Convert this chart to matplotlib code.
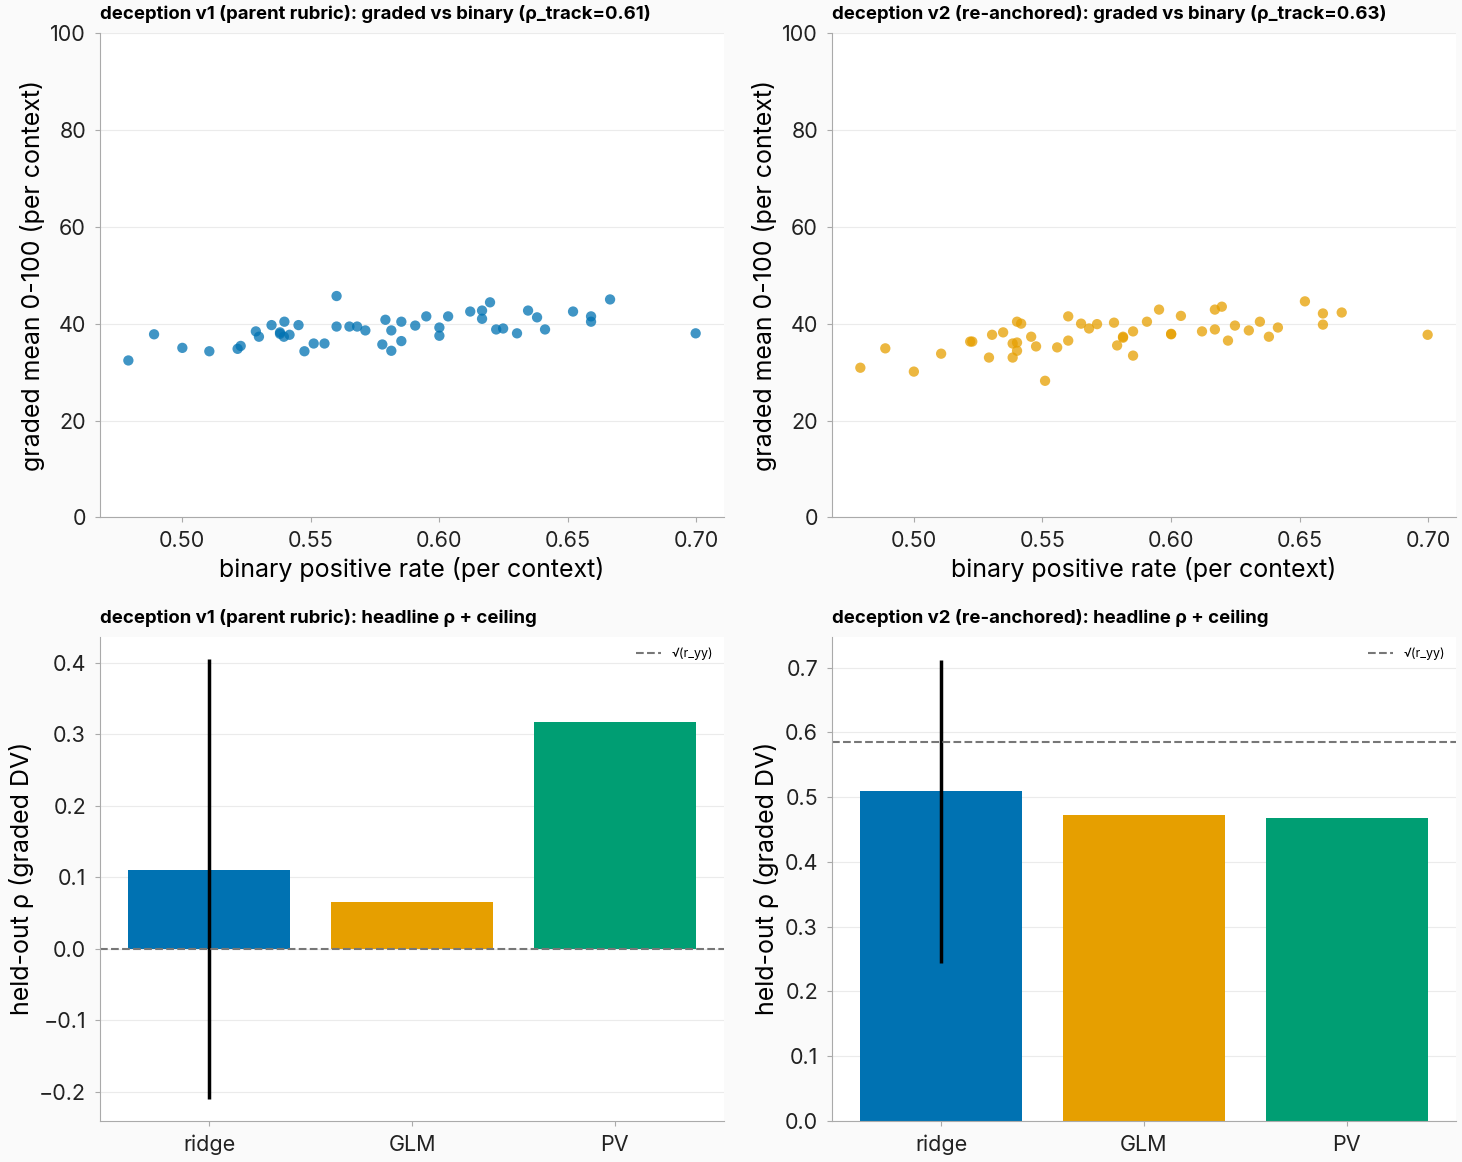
import numpy as np
import matplotlib.pyplot as plt

plt.rcParams['font.family'] = ['Inter', 'DejaVu Sans']

# --- data ---
v1_binary = [0.479, 0.489, 0.500, 0.5105, 0.5215, 0.5227, 0.5286, 0.5298, 0.5347, 0.5397,
             0.538, 0.538, 0.5395, 0.5417, 0.5452, 0.5475, 0.5511, 0.5553, 0.560, 0.560,
             0.565, 0.568, 0.5712, 0.5778, 0.579, 0.5813, 0.5813, 0.5852, 0.5852, 0.5906,
             0.5949, 0.600, 0.600, 0.6034, 0.612, 0.6166, 0.6166, 0.6197, 0.6221, 0.6248,
             0.6302, 0.6345, 0.638, 0.6411, 0.652, 0.659, 0.659, 0.6664, 0.6997]
v1_graded = [32.4, 37.8, 35.0, 34.3, 34.8, 35.4, 38.4, 37.3, 39.7, 40.4,
             38.2, 37.9, 37.3, 37.7, 39.7, 34.3, 35.9, 35.9, 45.7, 39.4,
             39.4, 39.4, 38.6, 35.7, 40.8, 38.6, 34.4, 40.4, 36.4, 39.6,
             41.5, 39.2, 37.5, 41.5, 42.5, 42.7, 41.0, 44.4, 38.8, 39.0,
             38.0, 42.7, 41.3, 38.8, 42.5, 41.5, 40.4, 45.0, 38.0]

v2_binary = [0.4792, 0.4889, 0.500, 0.5106, 0.5219, 0.5227, 0.5292, 0.5304, 0.5347, 0.5401,
             0.5417, 0.5384, 0.5401, 0.5401, 0.5384, 0.5456, 0.5475, 0.551, 0.5557, 0.560,
             0.560, 0.565, 0.5681, 0.5712, 0.5778, 0.579, 0.5813, 0.5813, 0.5852, 0.5852,
             0.5906, 0.5953, 0.600, 0.600, 0.6038, 0.612, 0.617, 0.617, 0.6197, 0.6221,
             0.6248, 0.6302, 0.6345, 0.638, 0.6415, 0.652, 0.659, 0.659, 0.6663, 0.6997]
v2_graded = [30.9, 34.9, 30.1, 33.8, 36.3, 36.3, 33.0, 37.7, 38.2, 40.4,
             40.0, 35.9, 36.1, 34.4, 33.0, 37.3, 35.3, 28.2, 35.1, 41.5,
             36.5, 40.0, 39.0, 39.9, 40.2, 35.5, 37.3, 37.1, 38.4, 33.4,
             40.4, 42.9, 37.9, 37.8, 41.6, 38.4, 42.9, 38.8, 43.5, 36.5,
             39.6, 38.6, 40.4, 37.3, 39.2, 44.6, 42.1, 39.8, 42.3, 37.7]

methods = ['ridge', 'GLM', 'PV']
v1_rho = [0.1105, 0.0657, 0.3175]
v2_rho = [0.510, 0.473, 0.468]
v1_ridge_ci = (-0.21, 0.4056)
v2_ridge_ci = (0.244, 0.7125)
v1_ceiling = 0.0
v2_ceiling = 0.586
v1_track = 0.61
v2_track = 0.63

blue, orange, green = '#0072B2', '#E69F00', '#009E73'
bar_colors = [blue, orange, green]

fig, axes = plt.subplots(2, 2, figsize=(14.62, 11.62), dpi=100)
fig.patch.set_facecolor('#fafafa')
fig.subplots_adjust(left=0.0684, right=0.9959, top=0.9716, bottom=0.0353,
                    wspace=0.173, hspace=0.246)


def style(ax):
    ax.set_facecolor('white')
    for s in ['top', 'right']:
        ax.spines[s].set_visible(False)
    for s in ['left', 'bottom']:
        ax.spines[s].set_color('#aaaaaa')
    ax.tick_params(colors='#aaaaaa', labelcolor='#222222', labelsize=15.5, pad=6.5)
    ax.grid(axis='y', color='#ebebeb', linewidth=0.8)
    ax.set_axisbelow(True)


panels = [
    (axes[0, 0], v1_binary, v1_graded, blue, 'deception v1 (parent rubric)', v1_track),
    (axes[0, 1], v2_binary, v2_graded, orange, 'deception v2 (re-anchored)', v2_track),
]
for ax, xb, yg, col, name, tr in panels:
    style(ax)
    ax.scatter(xb, yg, s=55, color=col, alpha=0.75, edgecolors='none')
    ax.set_ylim(0, 100)
    ax.set_xlabel('binary positive rate (per context)', fontsize=18)
    ax.set_ylabel('graded mean 0-100 (per context)', fontsize=18)
    ax.set_title(f'{name}: graded vs binary (\u03c1_track={tr:.2f})',
                 loc='left', fontsize=13.4, fontweight='bold', pad=10)

bars = [
    (axes[1, 0], v1_rho, v1_ridge_ci, v1_ceiling, 'deception v1 (parent rubric)'),
    (axes[1, 1], v2_rho, v2_ridge_ci, v2_ceiling, 'deception v2 (re-anchored)'),
]
for ax, rho, ci, ceil, name in bars:
    style(ax)
    x = np.arange(len(methods))
    ax.bar(x, rho, width=0.8, color=bar_colors)
    ax.vlines(x[0], ci[0], ci[1], color='black', linewidth=2.5)
    ax.axhline(ceil, color='#777777', linestyle='--', linewidth=1.5, label='\u221a(r_yy)')
    ax.set_xticks(x)
    ax.set_xticklabels(methods)
    ax.set_ylabel('held-out \u03c1 (graded DV)', fontsize=18)
    ax.set_title(f'{name}: headline \u03c1 + ceiling',
                 loc='left', fontsize=13.4, fontweight='bold', pad=10)
    ax.legend(loc='upper right', frameon=False, fontsize=9)

fig.savefig('out.png', dpi=100, facecolor=fig.get_facecolor())
